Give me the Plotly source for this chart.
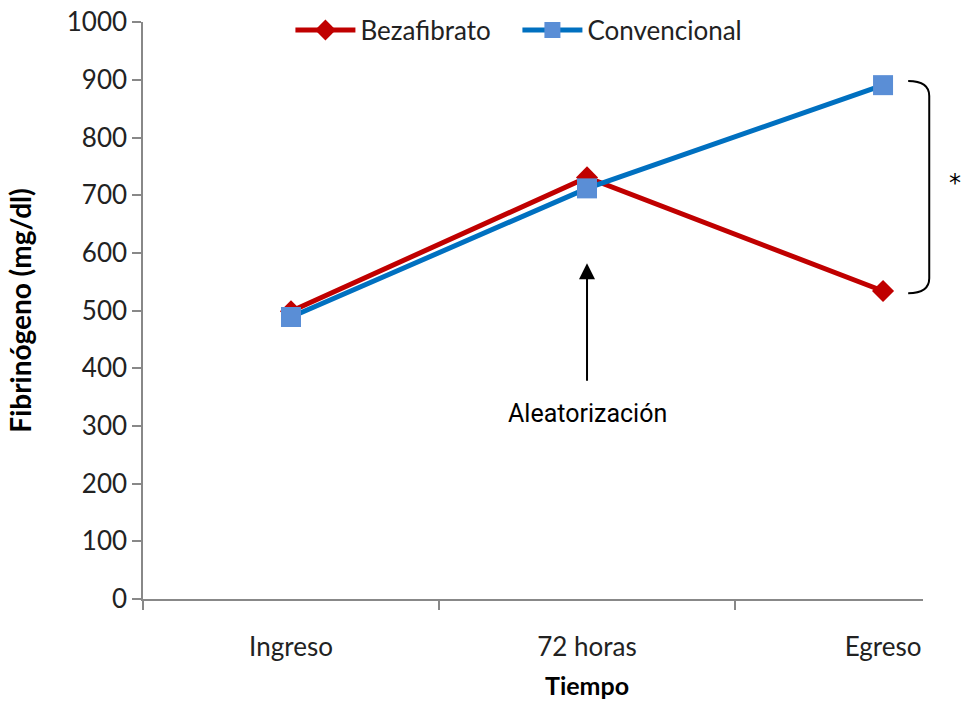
import plotly.graph_objects as go

categories = ["Ingreso", "72 horas", "Egreso"]
bezafibrato = [499, 731, 534]
convencional = [489, 712, 891]
y_ticks = [0, 100, 200, 300, 400, 500, 600, 700, 800, 900, 1000]

xpos = list(range(len(categories)))
tick_font = "Lato, Carlito, Calibri, sans-serif"
narrow_font = "Roboto, sans-serif"

fig = go.Figure()
fig.add_trace(go.Scatter(
    x=xpos, y=bezafibrato, name="Bezafibrato", mode="lines+markers",
    line=dict(color="#C00000", width=5),
    marker=dict(symbol="diamond", size=17, color="#C00000", line=dict(width=0)),
))
fig.add_trace(go.Scatter(
    x=xpos, y=convencional, name="Convencional", mode="lines+markers",
    line=dict(color="#0070C0", width=5),
    marker=dict(symbol="square", size=20, color="#5A8ED6", line=dict(width=0)),
))

# bracket for significance
y_top = convencional[2] + 7
y_bot = bezafibrato[2] - 4
x0, x1 = 0.981, 1.008
r = 26
path = (f"M {x0},{y_top} Q {x1},{y_top} {x1},{y_top - r} "
        f"L {x1},{y_bot + r} Q {x1},{y_bot} {x0},{y_bot}")
fig.add_shape(type="path", path=path, xref="paper", yref="y",
              line=dict(color="black", width=2))

fig.add_annotation(x=1.05, xref="paper", y=(y_top + y_bot) / 2 + 8, yref="y",
                   text="*", showarrow=False, borderpad=0,
                   font=dict(family="DejaVu Sans, sans-serif", size=24, color="black"))

# arrow for randomisation
fig.add_annotation(x=xpos[1], y=582, xref="x", yref="y",
                   ax=xpos[1], ay=376, axref="x", ayref="y",
                   text="", showarrow=True, arrowhead=2, arrowsize=1.6,
                   arrowwidth=2, arrowcolor="black", standoff=0, startstandoff=0)
fig.add_annotation(x=xpos[1], y=322, xref="x", yref="y",
                   text="Aleatorización", showarrow=False,
                   font=dict(family=narrow_font, size=25, color="black"))

# x-axis title, centred under the middle category
fig.add_annotation(x=xpos[1], xref="x", y=0, yref="paper", yanchor="middle",
                   yshift=-86, text="<b>Tiempo</b>", showarrow=False, borderpad=0,
                   font=dict(family=tick_font, size=25, color="black"))

fig.update_layout(
    width=962, height=701,
    margin=dict(l=143, r=39, t=22, b=102, autoexpand=False),
    paper_bgcolor="white", plot_bgcolor="white",
    showlegend=True,
    legend=dict(orientation="h", x=0.189, xanchor="left", y=0.986, yanchor="middle",
                font=dict(family=tick_font, size=26, color="#222222"),
                bgcolor="rgba(0,0,0,0)", itemwidth=60, tracegroupgap=0,
                entrywidth=152),
    xaxis=dict(
        range=[-0.5, 2.135], tickmode="array", tickvals=xpos, ticktext=categories,
        ticks="", showgrid=False, zeroline=False, automargin=False,
        showline=True, linecolor="#888888", linewidth=1.5,
        tickfont=dict(family=tick_font, size=26, color="#222222"),
        ticklabelstandoff=24,
        minor=dict(ticks="outside", tick0=-0.5, dtick=1, ticklen=9,
                   tickcolor="#888888", tickwidth=1.5, showgrid=False),
    ),
    yaxis=dict(
        range=[0, 1000.5], tickmode="array", tickvals=y_ticks,
        ticks="outside", ticklen=9, tickcolor="#888888", tickwidth=1.5,
        showgrid=False, zeroline=False, automargin=False,
        showline=True, linecolor="#888888", linewidth=1.5,
        tickfont=dict(family=tick_font, size=26, color="#222222"),
        ticklabeloverflow="allow",
        title=dict(text="<b>Fibrinógeno (mg/dl)</b>",
                   font=dict(family=tick_font, size=28, color="black"), standoff=27),
    ),
)

fig.write_html(
    "out.html",
    config={"displayModeBar": False},
    post_script="document.body.style.margin='0';document.body.style.overflow='hidden';",
)
